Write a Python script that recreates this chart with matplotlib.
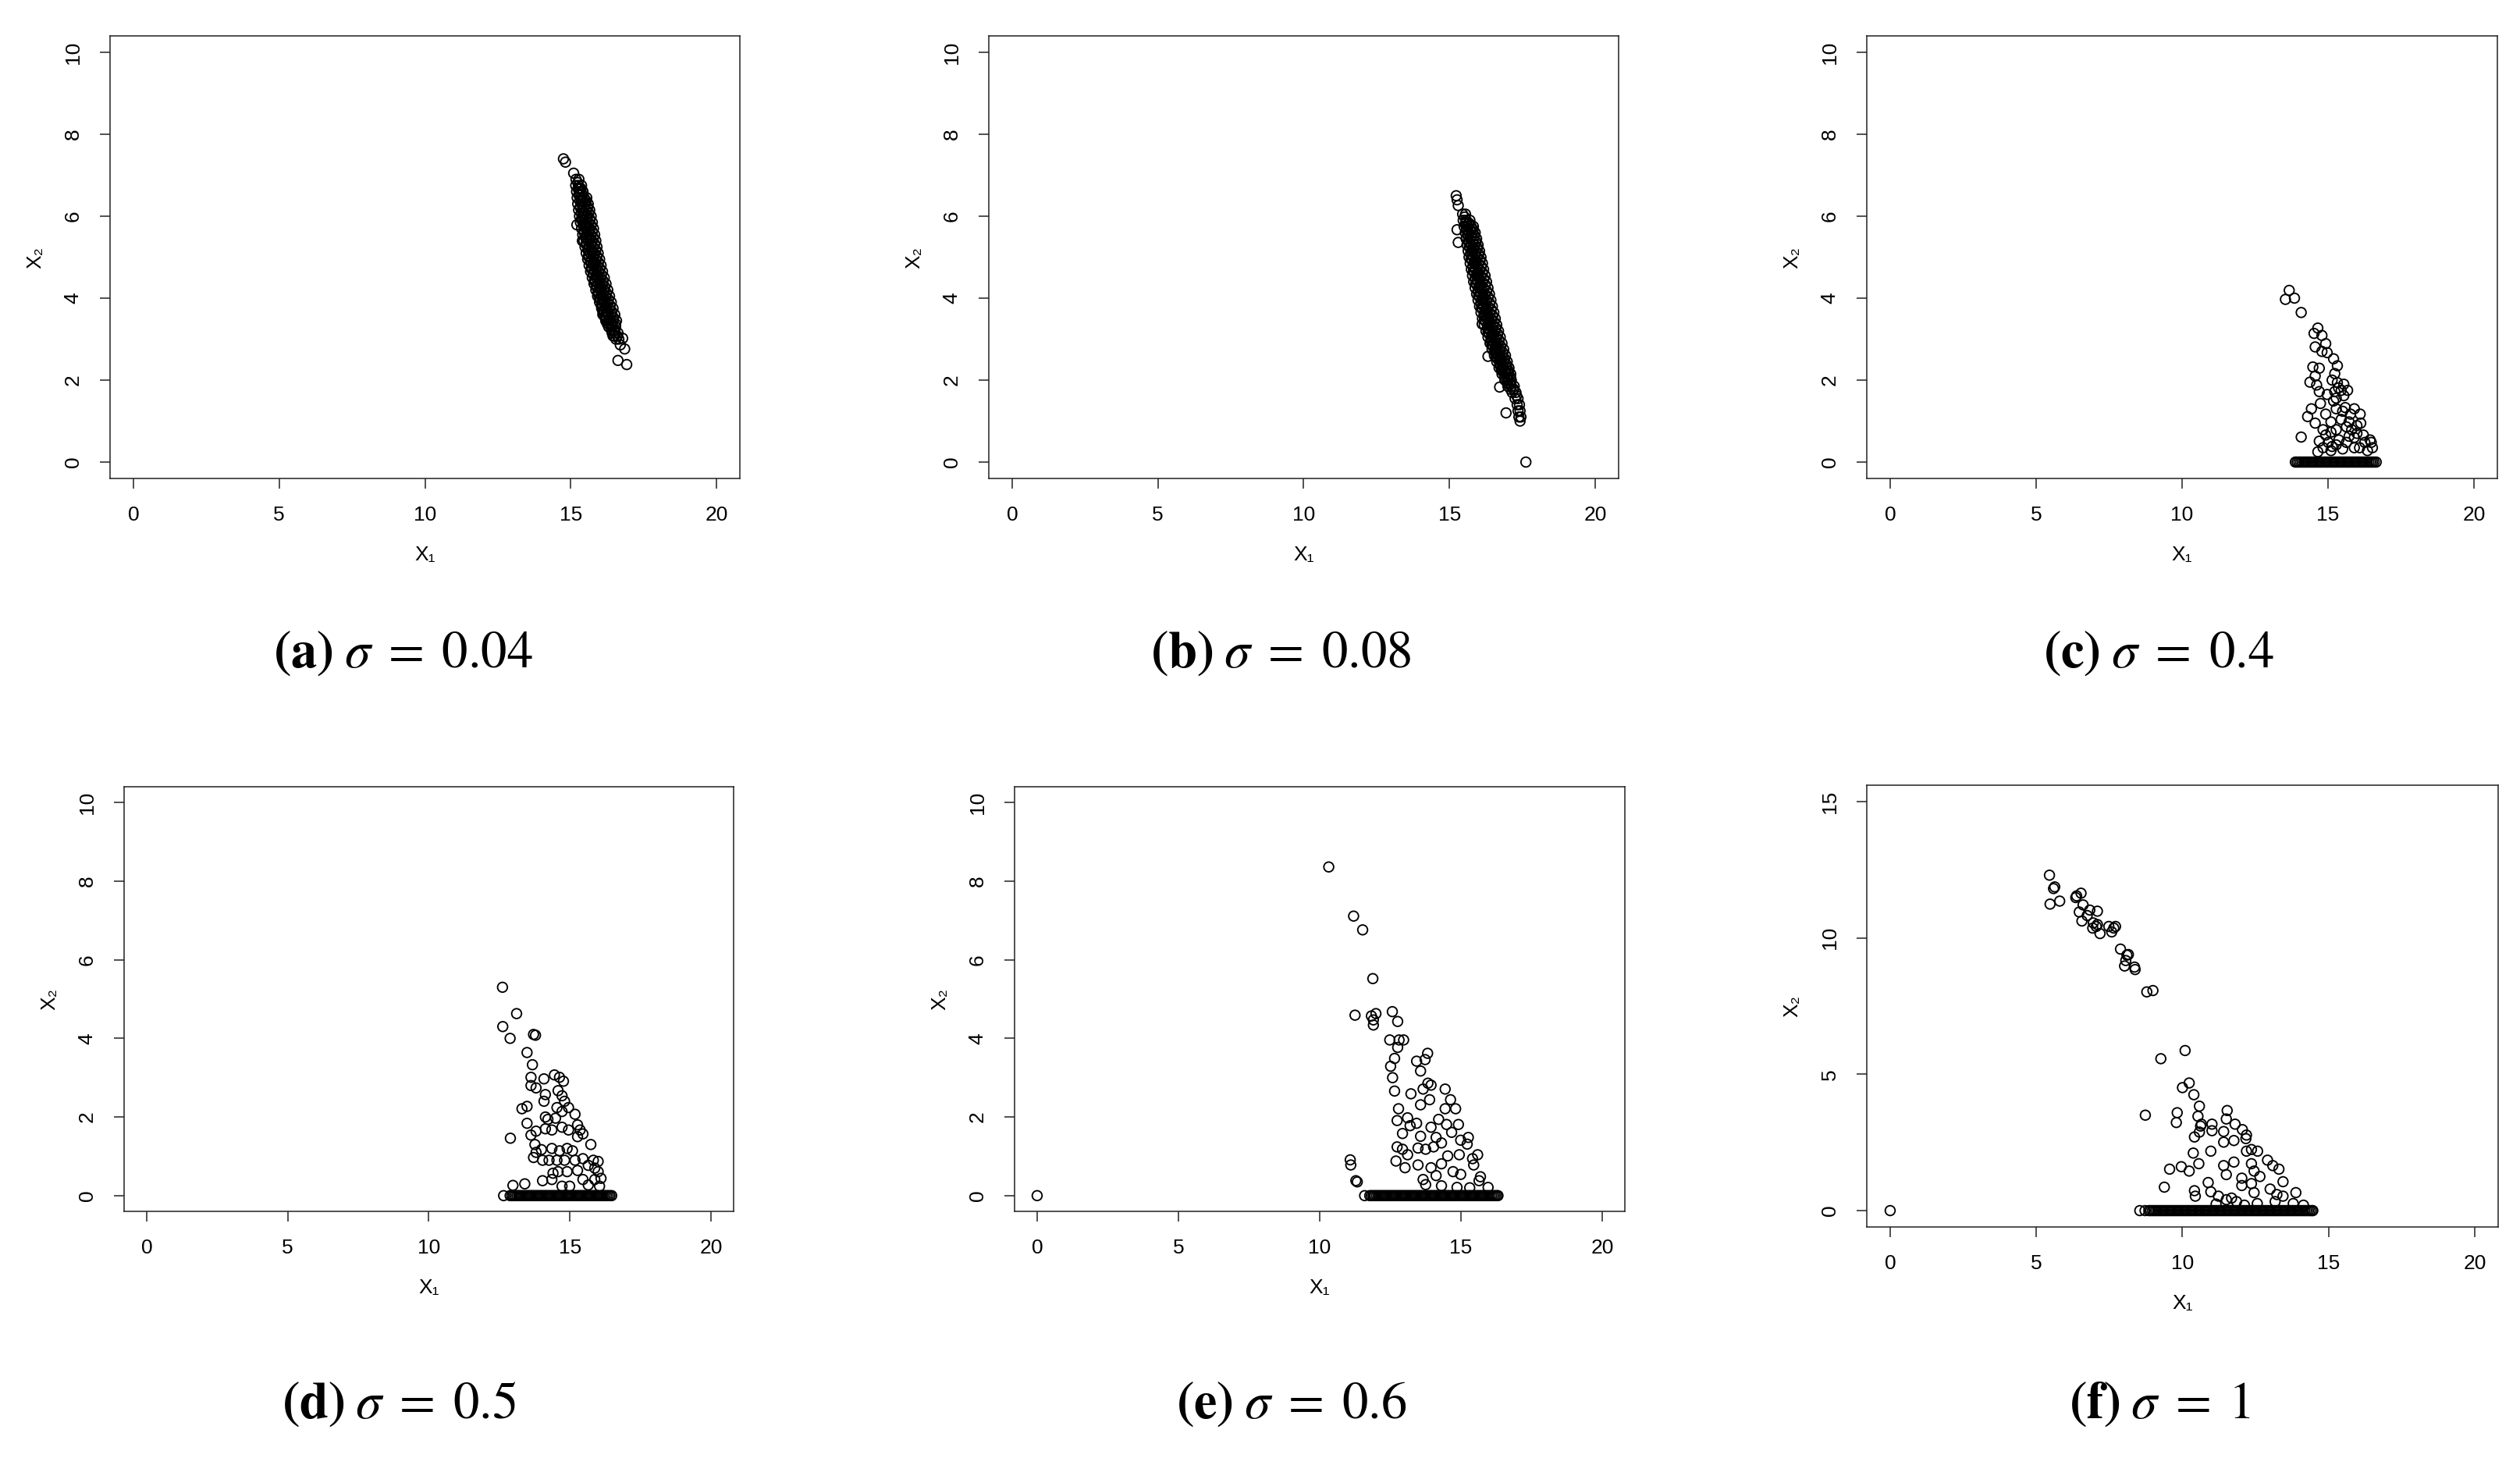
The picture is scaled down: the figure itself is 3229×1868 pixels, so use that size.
import matplotlib
matplotlib.use('Agg')
import matplotlib.pyplot as plt

plt.rcParams['font.family'] = ['Liberation Sans', 'DejaVu Sans']
plt.rcParams['mathtext.fontset'] = 'stix'

W, H = 3230, 1868

# (x1, x2) punkty
a_pts = [(14.75, 7.40), (14.82, 7.32), (15.10, 7.05), (16.62, 2.48), (16.92, 2.38), (16.85, 2.76),
         (16.70, 2.86), (16.78, 3.02), (15.21, 5.79), (15.40, 5.40), (16.10, 3.60),
         (15.18, 6.90), (15.28, 6.90),
         (15.17, 6.75), (15.27, 6.75), (15.37, 6.75),
         (15.20, 6.60), (15.30, 6.60), (15.42, 6.60),
         (15.22, 6.45), (15.34, 6.45), (15.46, 6.45), (15.55, 6.45),
         (15.24, 6.30), (15.37, 6.30), (15.50, 6.30), (15.60, 6.30),
         (15.27, 6.15), (15.40, 6.15), (15.53, 6.15), (15.65, 6.15),
         (15.30, 6.00), (15.43, 6.00), (15.57, 6.00), (15.70, 6.00),
         (15.33, 5.85), (15.47, 5.85), (15.61, 5.85), (15.74, 5.85),
         (15.37, 5.70), (15.51, 5.70), (15.65, 5.70), (15.78, 5.70),
         (15.41, 5.55), (15.55, 5.55), (15.69, 5.55), (15.82, 5.55),
         (15.45, 5.40), (15.59, 5.40), (15.73, 5.40), (15.86, 5.40),
         (15.49, 5.25), (15.63, 5.25), (15.77, 5.25), (15.90, 5.25),
         (15.53, 5.10), (15.67, 5.10), (15.81, 5.10), (15.94, 5.10),
         (15.58, 4.95), (15.72, 4.95), (15.86, 4.95), (15.99, 4.95),
         (15.63, 4.80), (15.77, 4.80), (15.91, 4.80), (16.04, 4.80),
         (15.68, 4.65), (15.82, 4.65), (15.96, 4.65), (16.09, 4.65),
         (15.74, 4.50), (15.88, 4.50), (16.02, 4.50), (16.15, 4.50),
         (15.80, 4.35), (15.94, 4.35), (16.08, 4.35), (16.21, 4.35),
         (15.86, 4.20), (16.00, 4.20), (16.14, 4.20), (16.27, 4.20),
         (15.92, 4.05), (16.06, 4.05), (16.20, 4.05), (16.33, 4.05),
         (15.99, 3.90), (16.12, 3.90), (16.26, 3.90), (16.39, 3.90),
         (16.06, 3.75), (16.19, 3.75), (16.32, 3.75), (16.45, 3.75),
         (16.13, 3.60), (16.26, 3.60), (16.39, 3.60), (16.51, 3.60),
         (16.20, 3.45), (16.33, 3.45), (16.46, 3.45), (16.57, 3.45),
         (16.30, 3.30), (16.42, 3.30), (16.54, 3.30),
         (16.42, 3.15), (16.52, 3.15), (16.62, 3.15),
         (16.55, 3.00), (16.65, 3.00),
         # kolejne warstwy gestego pasma
         (15.24, 6.82), (15.33, 6.68), (15.28, 6.52), (15.41, 6.38), (15.32, 6.22), (15.47, 6.08),
         (15.36, 5.92), (15.53, 5.78), (15.45, 5.62), (15.62, 5.48), (15.52, 5.32), (15.70, 5.18),
         (15.60, 5.02), (15.79, 4.88), (15.70, 4.72), (15.88, 4.58), (15.81, 4.42), (15.98, 4.28),
         (15.93, 4.12), (16.09, 3.98), (16.05, 3.82), (16.22, 3.68), (16.18, 3.52), (16.36, 3.38),
         (16.48, 3.22),
         (15.30, 6.68), (15.40, 6.62), (15.36, 6.38), (15.48, 6.34), (15.42, 6.08), (15.55, 6.04),
         (15.48, 5.78), (15.62, 5.74), (15.55, 5.48), (15.68, 5.44), (15.62, 5.18), (15.76, 5.14),
         (15.70, 4.88), (15.84, 4.84), (15.78, 4.58), (15.93, 4.54), (15.88, 4.28), (16.03, 4.24),
         (15.99, 3.98), (16.14, 3.94), (16.10, 3.68), (16.25, 3.64), (16.25, 3.38), (16.40, 3.34),
         (16.45, 3.08),
         (15.25, 6.675), (15.35, 6.675), (15.28, 6.525), (15.39, 6.525),
         (15.31, 6.375), (15.43, 6.375), (15.53, 6.375), (15.33, 6.225), (15.46, 6.225), (15.58, 6.225),
         (15.36, 6.075), (15.49, 6.075), (15.62, 6.075), (15.39, 5.925), (15.53, 5.925), (15.66, 5.925),
         (15.43, 5.775), (15.57, 5.775), (15.70, 5.775), (15.47, 5.625), (15.61, 5.625), (15.74, 5.625),
         (15.51, 5.475), (15.65, 5.475), (15.78, 5.475), (15.55, 5.325), (15.69, 5.325), (15.82, 5.325),
         (15.59, 5.175), (15.73, 5.175), (15.86, 5.175), (15.63, 5.025), (15.77, 5.025), (15.90, 5.025),
         (15.68, 4.875), (15.82, 4.875), (15.95, 4.875), (15.73, 4.725), (15.87, 4.725), (16.00, 4.725),
         (15.78, 4.575), (15.92, 4.575), (16.05, 4.575), (15.84, 4.425), (15.98, 4.425), (16.11, 4.425),
         (15.90, 4.275), (16.04, 4.275), (16.17, 4.275), (15.96, 4.125), (16.10, 4.125), (16.23, 4.125),
         (16.02, 3.975), (16.16, 3.975), (16.29, 3.975), (16.08, 3.825), (16.22, 3.825), (16.35, 3.825),
         (16.15, 3.675), (16.28, 3.675), (16.41, 3.675), (16.22, 3.525), (16.35, 3.525), (16.47, 3.525),
         (16.29, 3.375), (16.42, 3.375), (16.54, 3.375), (16.39, 3.225), (16.51, 3.225),
         (16.50, 3.075), (16.60, 3.075)]

b_pts = [(15.23, 6.50), (15.26, 6.40), (15.30, 6.26), (15.26, 5.67), (15.30, 5.36), (16.94, 1.20),
         (16.72, 1.83), (16.32, 2.58), (16.12, 3.37), (17.62, 0.00),
         (15.45, 6.05), (15.55, 6.05),
         (15.47, 5.90), (15.58, 5.90), (15.70, 5.90),
         (15.50, 5.75), (15.62, 5.75), (15.74, 5.75), (15.82, 5.75),
         (15.54, 5.60), (15.66, 5.60), (15.78, 5.60), (15.88, 5.60),
         (15.57, 5.45), (15.70, 5.45), (15.82, 5.45), (15.93, 5.45),
         (15.60, 5.30), (15.73, 5.30), (15.86, 5.30), (15.98, 5.30),
         (15.64, 5.15), (15.77, 5.15), (15.90, 5.15), (16.03, 5.15),
         (15.67, 5.00), (15.81, 5.00), (15.95, 5.00), (16.08, 5.00),
         (15.71, 4.85), (15.85, 4.85), (15.99, 4.85), (16.13, 4.85),
         (15.75, 4.70), (15.89, 4.70), (16.03, 4.70), (16.17, 4.70),
         (15.79, 4.55), (15.93, 4.55), (16.07, 4.55), (16.22, 4.55),
         (15.83, 4.40), (15.97, 4.40), (16.12, 4.40), (16.27, 4.40),
         (15.88, 4.25), (16.02, 4.25), (16.17, 4.25), (16.32, 4.25),
         (15.93, 4.10), (16.07, 4.10), (16.22, 4.10), (16.37, 4.10),
         (15.98, 3.95), (16.12, 3.95), (16.27, 3.95), (16.42, 3.95),
         (16.03, 3.80), (16.17, 3.80), (16.32, 3.80), (16.47, 3.80),
         (16.08, 3.65), (16.22, 3.65), (16.37, 3.65), (16.52, 3.65),
         (16.13, 3.50), (16.28, 3.50), (16.43, 3.50), (16.57, 3.50),
         (16.19, 3.35), (16.34, 3.35), (16.49, 3.35), (16.62, 3.35),
         (16.25, 3.20), (16.40, 3.20), (16.55, 3.20), (16.68, 3.20),
         (16.32, 3.05), (16.46, 3.05), (16.60, 3.05), (16.74, 3.05),
         (16.39, 2.90), (16.53, 2.90), (16.66, 2.90), (16.80, 2.90),
         (16.46, 2.75), (16.60, 2.75), (16.73, 2.75), (16.86, 2.75),
         (16.54, 2.60), (16.67, 2.60), (16.80, 2.60), (16.92, 2.60),
         (16.62, 2.45), (16.75, 2.45), (16.87, 2.45), (16.98, 2.45),
         (16.70, 2.30), (16.83, 2.30), (16.95, 2.30), (17.04, 2.30),
         (16.80, 2.15), (16.92, 2.15), (17.02, 2.15), (17.10, 2.15),
         (16.90, 2.00), (17.01, 2.00), (17.12, 2.00),
         (17.00, 1.85), (17.12, 1.85), (17.22, 1.85),
         (17.15, 1.70), (17.28, 1.70), (17.25, 1.55), (17.35, 1.55),
         (17.32, 1.40), (17.40, 1.40), (17.35, 1.25), (17.42, 1.25),
         (17.38, 1.10), (17.45, 1.10), (17.42, 1.00),
         # kolejne warstwy
         (15.52, 5.98), (15.64, 5.82), (15.60, 5.68), (15.76, 5.52), (15.66, 5.38), (15.84, 5.22),
         (15.72, 5.08), (15.91, 4.92), (15.80, 4.78), (15.98, 4.62), (15.88, 4.48), (16.06, 4.32),
         (15.98, 4.18), (16.16, 4.02), (16.08, 3.88), (16.26, 3.72), (16.20, 3.58), (16.38, 3.42),
         (16.31, 3.28), (16.49, 3.12), (16.44, 2.98), (16.62, 2.82), (16.58, 2.68), (16.74, 2.52),
         (16.74, 2.38), (16.88, 2.22), (16.96, 2.08), (17.08, 1.92), (17.20, 1.78), (17.30, 1.62),
         (15.56, 5.86), (15.68, 5.82), (15.62, 5.56), (15.74, 5.52), (15.68, 5.26), (15.80, 5.22),
         (15.74, 4.96), (15.88, 4.92), (15.82, 4.66), (15.96, 4.62), (15.90, 4.36), (16.04, 4.32),
         (16.00, 4.06), (16.14, 4.02), (16.10, 3.76), (16.24, 3.72), (16.20, 3.46), (16.35, 3.42),
         (16.32, 3.16), (16.46, 3.12), (16.45, 2.86), (16.58, 2.82), (16.60, 2.56), (16.72, 2.52),
         (16.78, 2.26), (16.90, 2.22),
         (15.55, 5.825), (15.67, 5.825), (15.59, 5.675), (15.71, 5.675), (15.81, 5.675),
         (15.63, 5.525), (15.75, 5.525), (15.86, 5.525), (15.67, 5.375), (15.79, 5.375), (15.91, 5.375),
         (15.70, 5.225), (15.83, 5.225), (15.96, 5.225), (15.74, 5.075), (15.87, 5.075), (16.00, 5.075),
         (15.77, 4.925), (15.91, 4.925), (16.05, 4.925), (15.81, 4.775), (15.95, 4.775), (16.09, 4.775),
         (15.85, 4.625), (15.99, 4.625), (16.13, 4.625), (15.89, 4.475), (16.03, 4.475), (16.18, 4.475),
         (15.93, 4.325), (16.08, 4.325), (16.23, 4.325), (15.98, 4.175), (16.13, 4.175), (16.28, 4.175),
         (16.03, 4.025), (16.18, 4.025), (16.33, 4.025), (16.08, 3.875), (16.23, 3.875), (16.38, 3.875),
         (16.13, 3.725), (16.28, 3.725), (16.43, 3.725), (16.18, 3.575), (16.33, 3.575), (16.48, 3.575),
         (16.24, 3.425), (16.39, 3.425), (16.53, 3.425), (16.30, 3.275), (16.45, 3.275), (16.59, 3.275),
         (16.36, 3.125), (16.51, 3.125), (16.65, 3.125), (16.42, 2.975), (16.56, 2.975), (16.70, 2.975),
         (16.49, 2.825), (16.63, 2.825), (16.76, 2.825), (16.56, 2.675), (16.70, 2.675), (16.83, 2.675),
         (16.64, 2.525), (16.77, 2.525), (16.89, 2.525), (16.72, 2.375), (16.84, 2.375), (16.96, 2.375),
         (16.80, 2.225), (16.92, 2.225), (17.03, 2.225), (16.89, 2.075), (17.00, 2.075), (17.09, 2.075),
         (16.99, 1.925), (17.10, 1.925), (17.10, 1.775), (17.20, 1.775)]

c_pts = [(13.67, 4.19), (13.54, 3.97), (13.85, 4.00), (14.08, 3.65), (14.65, 3.27), (14.52, 3.14),
         (14.79, 3.09), (14.92, 2.89), (14.56, 2.81), (14.79, 2.70), (14.97, 2.67), (15.19, 2.52),
         (15.32, 2.35), (14.48, 2.32), (14.70, 2.29), (14.56, 2.10), (14.38, 1.95), (14.61, 1.88),
         (14.70, 1.72), (14.97, 1.65), (15.14, 2.00), (15.32, 1.94), (15.54, 1.90), (15.67, 1.75),
         (15.23, 1.72), (15.45, 1.75), (15.19, 1.49), (14.74, 1.43), (14.43, 1.30), (14.30, 1.11),
         (14.56, 0.95), (14.92, 1.17), (15.28, 1.30), (15.59, 1.33), (15.90, 1.30), (16.10, 1.17),
         (16.12, 0.95), (15.72, 0.98), (15.45, 1.04), (15.10, 0.98), (14.83, 0.79), (14.08, 0.61),
         (14.70, 0.51), (15.01, 0.48), (15.37, 0.54), (15.72, 0.63), (15.99, 0.70), (16.26, 0.48),
         (16.52, 0.35), (16.48, 0.48), (14.65, 0.25), (15.10, 0.28), (15.50, 0.32), (15.90, 0.35),
         (15.28, 0.42), (14.83, 0.35), (15.63, 0.48), (16.08, 0.35), (16.35, 0.28), (15.81, 0.79),
         (15.63, 0.86), (15.99, 0.89), (15.28, 0.79), (15.50, 1.24), (15.77, 1.17), (15.10, 0.73),
         (14.92, 0.66), (15.14, 0.38), (16.21, 0.66), (15.90, 0.60), (16.44, 0.54), (15.23, 2.16),
         (15.36, 1.81), (15.28, 1.56), (15.54, 1.62)]
c_zero = [13.88, 13.94, 14.00, 14.06, 14.12, 14.18, 14.24, 14.30, 14.36, 14.42, 14.48, 14.54,
          14.60, 14.66, 14.72, 14.78, 14.84, 14.90, 14.96, 15.02, 15.08, 15.14, 15.20, 15.26,
          15.32, 15.38, 15.44, 15.50, 15.56, 15.62, 15.68, 15.74, 15.80, 15.86, 15.92, 15.98,
          16.04, 16.10, 16.16, 16.22, 16.28, 16.34, 16.40, 16.46, 16.52, 16.58, 16.65]

d_pts = [(12.61, 5.30), (13.11, 4.63), (12.62, 4.30), (12.88, 4.00), (13.71, 4.10), (13.78, 4.08),
         (13.48, 3.64), (13.67, 3.33), (13.62, 3.01), (14.08, 2.97), (14.45, 3.07), (14.63, 3.01),
         (14.77, 2.91), (13.62, 2.80), (13.80, 2.74), (14.13, 2.57), (14.08, 2.40), (14.58, 2.67),
         (14.72, 2.54), (14.81, 2.40), (13.30, 2.21), (13.48, 2.27), (14.95, 2.24), (15.18, 2.07),
         (14.72, 2.14), (14.54, 2.24), (14.13, 2.00), (14.22, 1.94), (14.49, 1.97), (13.48, 1.84),
         (13.62, 1.54), (13.80, 1.64), (12.89, 1.46), (14.13, 1.70), (14.36, 1.67), (14.72, 1.74),
         (14.95, 1.67), (15.27, 1.80), (15.36, 1.67), (15.46, 1.57), (15.27, 1.50), (15.74, 1.30),
         (13.76, 1.30), (13.80, 1.10), (13.71, 0.97), (13.99, 1.17), (14.36, 1.20), (14.63, 1.14),
         (14.90, 1.20), (15.09, 1.14), (14.03, 0.90), (14.26, 0.90), (14.54, 0.90), (14.81, 0.90),
         (15.18, 0.90), (15.46, 0.94), (15.83, 0.90), (16.00, 0.87), (15.65, 0.77), (15.88, 0.70),
         (16.00, 0.61), (14.40, 0.57), (14.58, 0.61), (14.90, 0.61), (15.27, 0.64), (15.46, 0.41),
         (16.10, 0.44), (15.88, 0.41), (14.03, 0.38), (14.36, 0.41), (12.98, 0.26), (13.40, 0.30),
         (14.72, 0.24), (14.99, 0.24), (15.65, 0.27), (16.05, 0.24)]
d_zero = [12.65, 12.88, 12.94, 13.00, 13.06, 13.12, 13.18, 13.24, 13.30, 13.36, 13.42, 13.48,
          13.54, 13.60, 13.66, 13.72, 13.78, 13.84, 13.90, 13.96, 14.02, 14.08, 14.14, 14.20,
          14.26, 14.32, 14.38, 14.44, 14.50, 14.56, 14.62, 14.68, 14.74, 14.80, 14.86, 14.92,
          14.98, 15.04, 15.10, 15.16, 15.22, 15.28, 15.34, 15.40, 15.46, 15.52, 15.58, 15.64,
          15.70, 15.76, 15.82, 15.88, 15.94, 16.00, 16.06, 16.12, 16.18, 16.24, 16.30, 16.36,
          16.42, 16.48]

e_pts = [(10.32, 8.36), (11.20, 7.11), (11.52, 6.76), (11.88, 5.52), (11.25, 4.59), (11.83, 4.57),
         (11.99, 4.63), (11.90, 4.47), (11.90, 4.34), (12.57, 4.68), (12.76, 4.43), (12.48, 3.96),
         (12.81, 3.96), (12.97, 3.96), (12.76, 3.77), (13.82, 3.62), (12.65, 3.49), (12.51, 3.29),
         (12.58, 3.00), (12.65, 2.66), (13.43, 3.42), (13.73, 3.46), (13.57, 3.17), (13.83, 2.86),
         (13.94, 2.81), (13.66, 2.71), (13.23, 2.59), (13.57, 2.31), (13.89, 2.44), (14.44, 2.71),
         (14.63, 2.44), (14.44, 2.21), (14.81, 2.21), (14.91, 1.81), (12.79, 2.21), (12.74, 1.91),
         (13.11, 1.98), (13.43, 1.84), (13.20, 1.78), (12.93, 1.58), (13.94, 1.74), (14.21, 1.94),
         (14.49, 1.81), (14.67, 1.61), (13.57, 1.51), (14.12, 1.48), (14.31, 1.34), (14.99, 1.41),
         (15.26, 1.48), (15.22, 1.31), (12.74, 1.24), (12.93, 1.18), (13.11, 1.04), (13.48, 1.21),
         (13.75, 1.18), (14.03, 1.24), (14.53, 1.01), (14.94, 1.04), (15.59, 1.04), (15.41, 0.94),
         (11.08, 0.91), (11.10, 0.78), (12.70, 0.88), (13.02, 0.71), (13.48, 0.78), (13.94, 0.71),
         (14.31, 0.81), (14.72, 0.61), (14.99, 0.54), (15.45, 0.78), (11.28, 0.38), (11.33, 0.35),
         (13.66, 0.41), (14.12, 0.51), (15.69, 0.48), (15.64, 0.38), (15.96, 0.21), (13.75, 0.28),
         (14.31, 0.25), (14.86, 0.21), (15.31, 0.20)]
e_zero = [0.00, 11.59, 11.77, 11.83, 11.89, 11.95, 12.01, 12.07, 12.13, 12.19, 12.25, 12.31,
          12.37, 12.43, 12.49, 12.55, 12.61, 12.67, 12.73, 12.79, 12.85, 12.91, 12.97, 13.03,
          13.09, 13.15, 13.21, 13.27, 13.33, 13.39, 13.45, 13.51, 13.57, 13.63, 13.69, 13.75,
          13.81, 13.87, 13.93, 13.99, 14.05, 14.11, 14.17, 14.23, 14.29, 14.35, 14.41, 14.47,
          14.53, 14.59, 14.65, 14.71, 14.77, 14.83, 14.89, 14.95, 15.01, 15.07, 15.13, 15.19,
          15.25, 15.31, 15.37, 15.43, 15.49, 15.55, 15.61, 15.67, 15.73, 15.79, 15.85, 15.91,
          15.97, 16.03, 16.09, 16.15, 16.21, 16.27, 16.31]

f_pts = [(5.45, 12.30), (5.47, 11.24), (5.59, 11.81), (5.63, 11.87), (5.80, 11.35), (6.35, 11.48),
         (6.38, 11.54), (6.53, 11.64), (6.47, 10.95), (6.60, 11.21), (6.56, 10.62), (6.74, 10.82),
         (6.83, 11.02), (7.09, 10.98), (6.95, 10.55), (7.09, 10.49), (7.18, 10.16), (6.93, 10.36),
         (7.05, 10.42), (7.48, 10.42), (7.58, 10.22), (7.65, 10.36), (7.71, 10.42), (7.88, 9.59),
         (8.10, 9.37), (8.06, 9.17), (8.15, 9.39), (8.02, 8.97), (8.36, 8.93), (8.38, 8.84),
         (8.78, 8.02), (8.99, 8.07), (10.09, 5.87), (9.26, 5.57), (10.23, 4.68), (10.00, 4.51),
         (10.39, 4.25), (10.58, 3.83), (10.53, 3.46), (9.82, 3.59), (9.79, 3.23), (8.73, 3.50),
         (10.62, 3.10), (10.65, 3.17), (11.01, 3.17), (11.01, 2.93), (11.53, 3.67), (11.50, 3.36),
         (11.41, 2.51), (11.76, 2.57), (11.80, 3.17), (12.05, 2.97), (12.19, 2.77), (12.17, 2.64),
         (10.58, 2.88), (10.41, 2.70), (11.41, 2.90), (10.37, 2.11), (10.97, 2.18), (12.19, 2.18),
         (12.36, 2.24), (12.57, 2.18), (10.56, 1.72), (11.41, 1.65), (11.76, 1.78), (12.36, 1.72),
         (12.91, 1.85), (13.09, 1.65), (13.30, 1.52), (12.45, 1.45), (9.56, 1.52), (9.96, 1.61),
         (10.23, 1.45), (11.50, 1.32), (12.03, 1.19), (12.65, 1.25), (13.44, 1.06), (10.88, 1.03),
         (9.38, 0.86), (10.41, 0.73), (10.97, 0.69), (12.03, 0.92), (12.36, 0.99), (13.00, 0.79),
         (13.23, 0.59), (13.88, 0.66), (10.44, 0.53), (11.23, 0.53), (11.50, 0.40), (12.45, 0.66),
         (12.56, 0.26), (13.44, 0.53), (13.79, 0.26), (14.14, 0.20), (11.15, 0.24), (11.85, 0.33),
         (13.17, 0.33), (11.68, 0.46), (12.12, 0.20)]
f_zero = [0.00, 8.54, 8.72, 8.85, 8.91, 8.97, 9.03, 9.09, 9.15, 9.21, 9.27, 9.33, 9.39, 9.45,
          9.51, 9.57, 9.63, 9.69, 9.75, 9.81, 9.87, 9.93, 9.99, 10.05, 10.11, 10.17, 10.23,
          10.29, 10.35, 10.41, 10.47, 10.53, 10.59, 10.65, 10.71, 10.77, 10.83, 10.89, 10.95,
          11.01, 11.07, 11.13, 11.19, 11.25, 11.31, 11.37, 11.43, 11.49, 11.55, 11.61, 11.67,
          11.73, 11.79, 11.85, 11.91, 11.97, 12.03, 12.09, 12.15, 12.21, 12.27, 12.33, 12.39,
          12.45, 12.51, 12.57, 12.63, 12.69, 12.75, 12.81, 12.87, 12.93, 12.99, 13.05, 13.11,
          13.17, 13.23, 13.29, 13.35, 13.41, 13.47, 13.53, 13.59, 13.65, 13.71, 13.77, 13.83,
          13.89, 13.95, 14.01, 14.07, 14.13, 14.19, 14.25, 14.31, 14.37, 14.43, 14.46]

x_ticks = [0, 5, 10, 15, 20]
captions = [r'$\mathbf{(a)}\;\sigma\;=\;0.04$', r'$\mathbf{(b)}\;\sigma\;=\;0.08$', r'$\mathbf{(c)}\;\sigma\;=\;0.4$',
            r'$\mathbf{(d)}\;\sigma\;=\;0.5$', r'$\mathbf{(e)}\;\sigma\;=\;0.6$', r'$\mathbf{(f)}\;\sigma\;=\;1$']

fig = plt.figure(figsize=(W / 100, H / 100), dpi=100)


def panel(box, pts, zeros, ymax, yticks, caption, cap_x, cap_y):
    l, r, t, b = box
    w, h = r - l, b - t
    ax = fig.add_axes([l / W, 1 - b / H, w / W, h / H])
    xs = [p[0] for p in pts] + zeros
    ys = [p[1] for p in pts] + [0.0] * len(zeros)
    ax.scatter(xs, ys, s=82, facecolors='none', edgecolors='black', linewidths=1.35, clip_on=False)
    ax.set_xlim(-0.8, 20.8)
    ax.set_ylim(-0.04 * ymax, 1.04 * ymax)
    ax.set_xticks(x_ticks)
    ax.set_yticks(yticks)
    ax.tick_params(direction='out', length=9.4, width=1.1, labelsize=19, pad=16, color='#222222')
    for lab in ax.get_yticklabels():
        lab.set_rotation(90)
        lab.set_va('center')
    for sp in ax.spines.values():
        sp.set_linewidth(1.1)
        sp.set_color('#222222')
    ax.text(0.5, -98 / h, 'X₁', transform=ax.transAxes, ha='center', va='center', fontsize=19)
    ax.text(-96 / w, 0.5, 'X₂', transform=ax.transAxes, ha='center', va='center', fontsize=19, rotation=90)
    fig.text(cap_x / W, 1 - cap_y / H, caption, ha='center', va='baseline', fontsize=48)
    return ax


y10 = [0, 2, 4, 6, 8, 10]
panel((141, 948, 46, 613), a_pts, [], 10, y10, captions[0], 516, 855)
panel((1267, 2074, 46, 613), b_pts, [], 10, y10, captions[1], 1641, 855)
panel((2392, 3200, 46, 613), c_pts, c_zero, 10, y10, captions[2], 2766, 855)
panel((159, 940, 1008, 1552), d_pts, d_zero, 10, y10, captions[3], 511, 1817)
panel((1300, 2082, 1008, 1552), e_pts, e_zero, 10, y10, captions[4], 1655, 1817)
panel((2392, 3201, 1006, 1572), f_pts, f_zero, 15, [0, 5, 10, 15], captions[5], 2767, 1817)

plt.savefig('out.png', dpi=100)
